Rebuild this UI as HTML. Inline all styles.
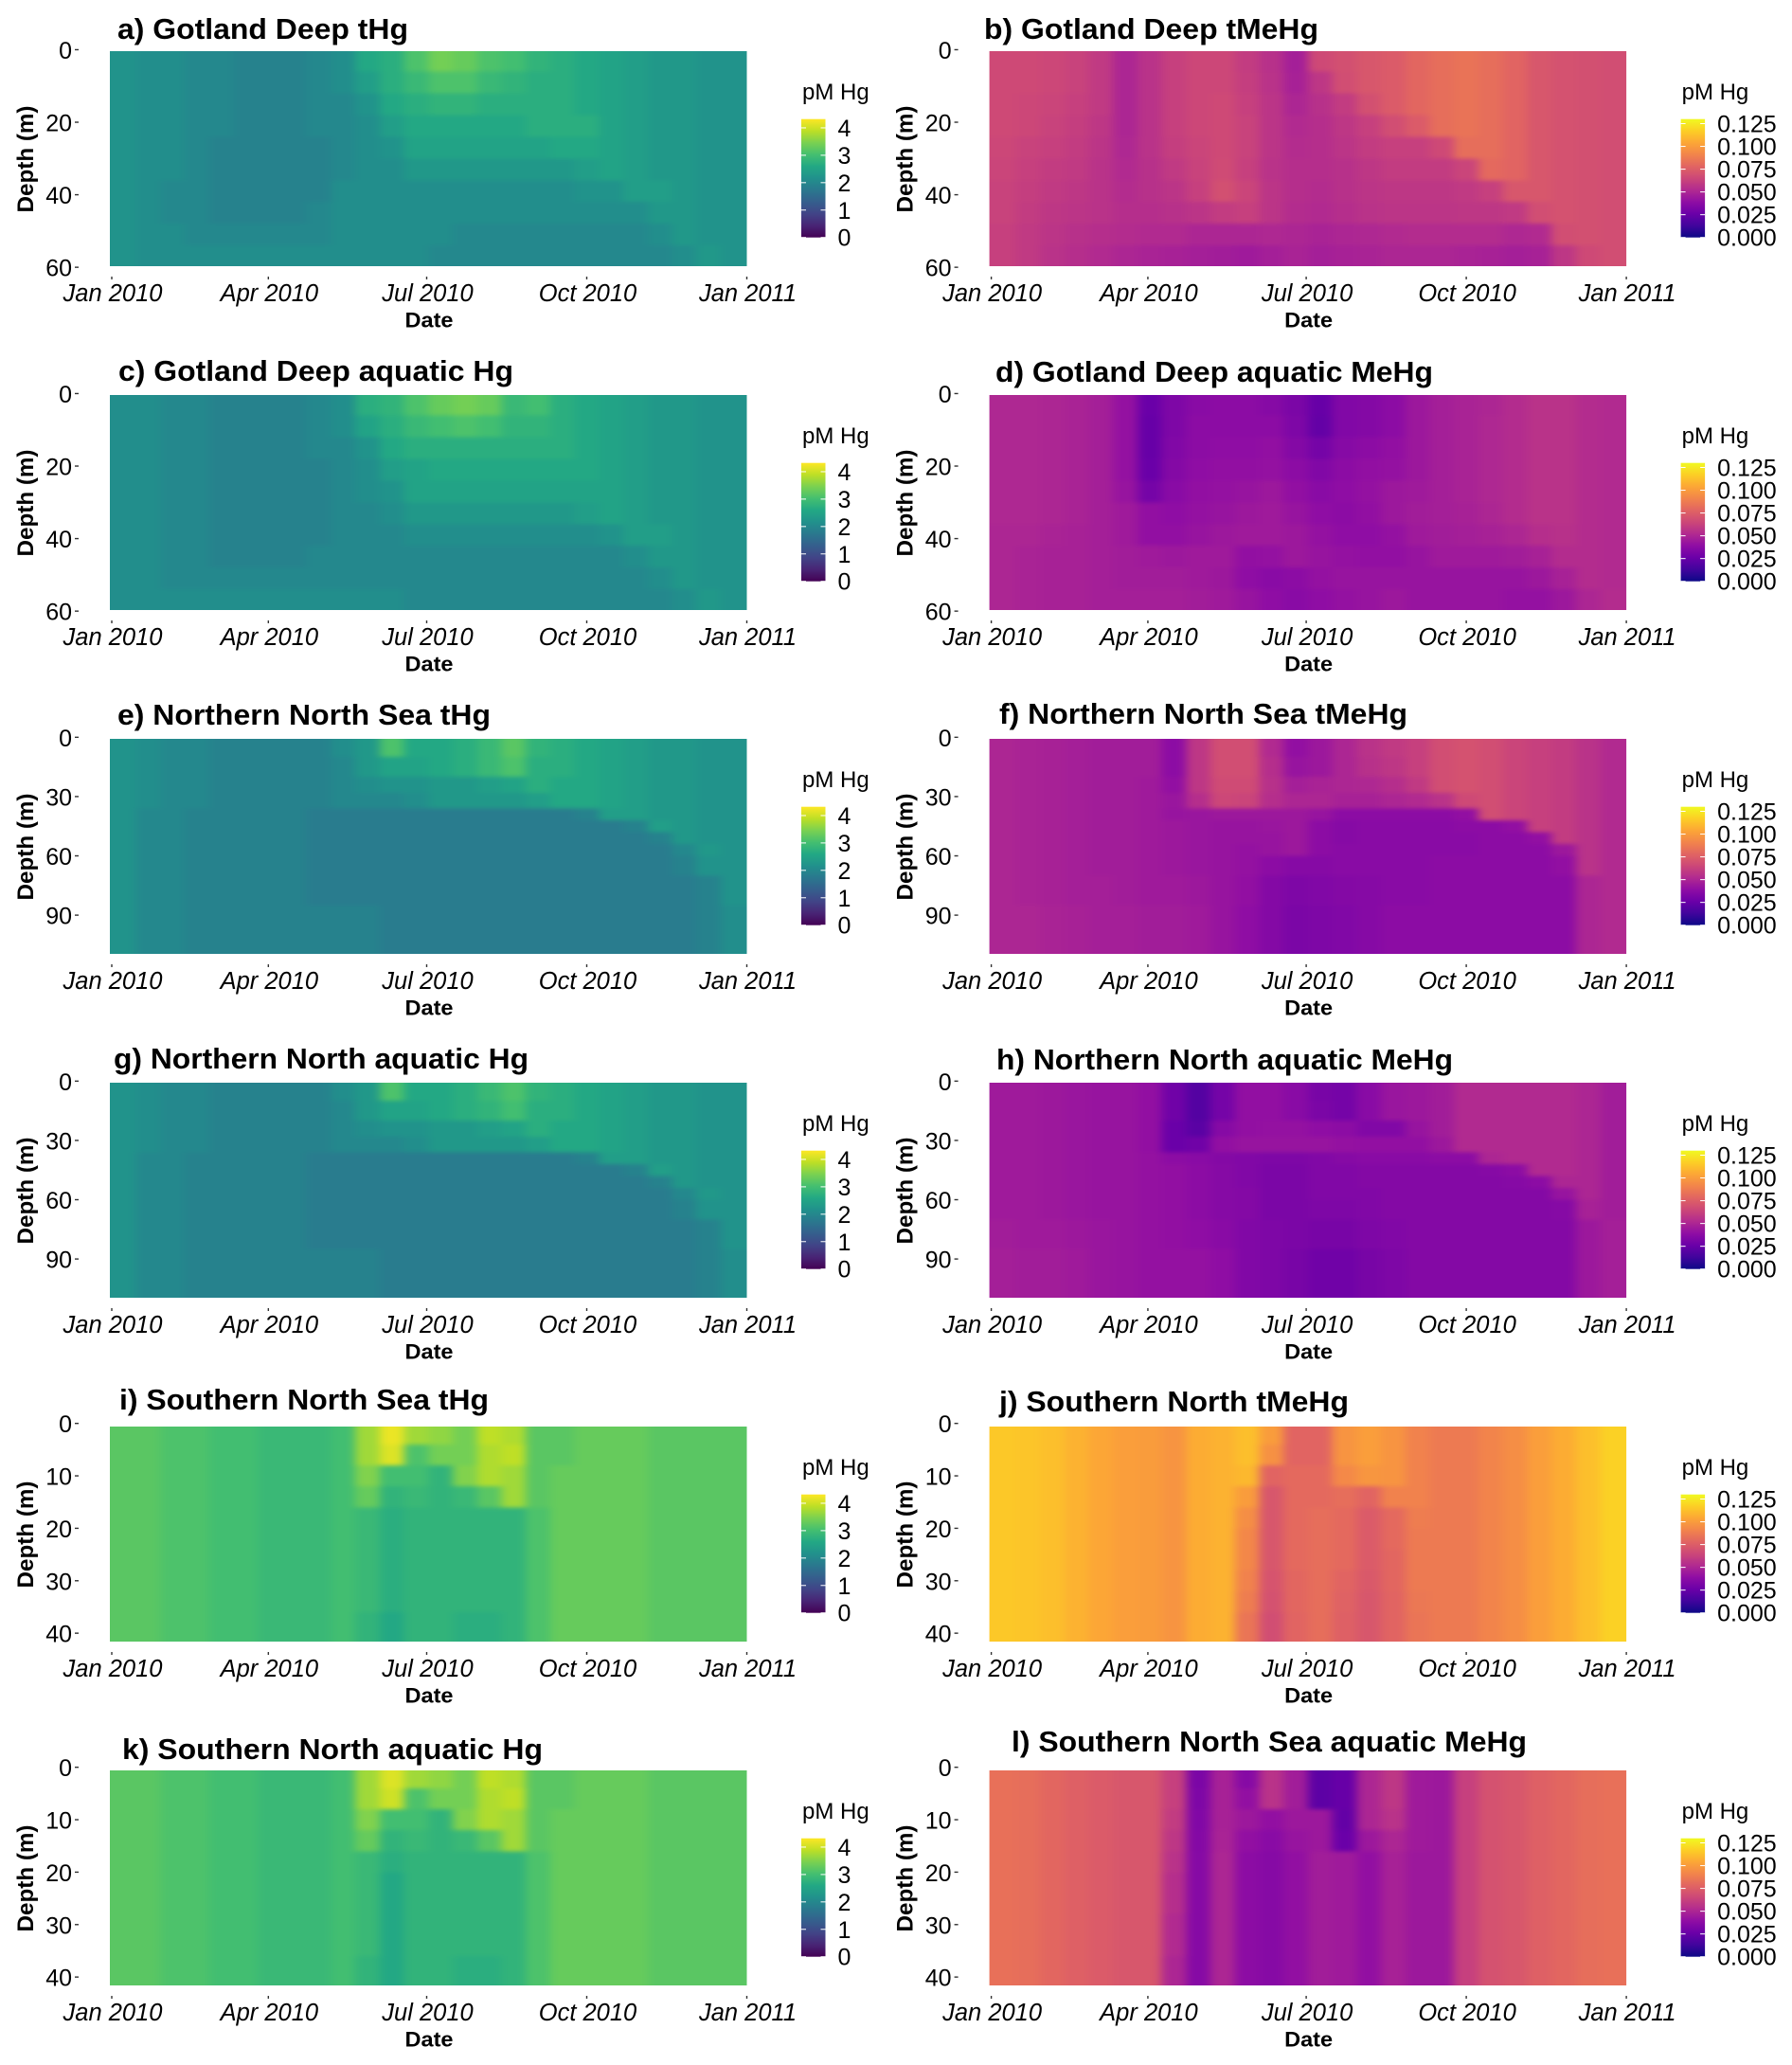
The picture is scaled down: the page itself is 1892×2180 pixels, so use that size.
<!DOCTYPE html>
<html lang="en">
<head>
<meta charset="utf-8">
<title>Hg and MeHg depth-time heatmaps</title>
<style>
html,body{margin:0;padding:0;background:#fff;}
svg{display:block;font-family:"Liberation Sans",sans-serif;}
.ttl{font-weight:bold;font-size:31px;fill:#000;}
</style>
</head>
<body>
<svg id="fig" xmlns="http://www.w3.org/2000/svg" width="1892" height="2180" viewBox="0 0 1892 2180">
<rect x="0" y="0" width="1892" height="2180" fill="#fff"/>
<defs>
<linearGradient id="gradViridis" x1="0" y1="1" x2="0" y2="0"></linearGradient>
<linearGradient id="gradPlasma" x1="0" y1="1" x2="0" y2="0"></linearGradient>
<filter id="soften" x="-5%" y="-15%" width="110%" height="130%" color-interpolation-filters="sRGB"><feGaussianBlur stdDeviation="5 2"/></filter>
</defs>
<text class="ttl" x="124" y="41" textLength="307" lengthAdjust="spacingAndGlyphs">a) Gotland Deep tHg</text>
<text class="ttl" x="1039" y="41" textLength="353" lengthAdjust="spacingAndGlyphs">b) Gotland Deep tMeHg</text>
<text class="ttl" x="125" y="402" textLength="417" lengthAdjust="spacingAndGlyphs">c) Gotland Deep aquatic Hg</text>
<text class="ttl" x="1051" y="403" textLength="462" lengthAdjust="spacingAndGlyphs">d) Gotland Deep aquatic MeHg</text>
<text class="ttl" x="124" y="765" textLength="394" lengthAdjust="spacingAndGlyphs">e) Northern North Sea tHg</text>
<text class="ttl" x="1055" y="764" textLength="431" lengthAdjust="spacingAndGlyphs">f) Northern North Sea tMeHg</text>
<text class="ttl" x="120" y="1128" textLength="438" lengthAdjust="spacingAndGlyphs">g) Northern North aquatic Hg</text>
<text class="ttl" x="1052" y="1129" textLength="482" lengthAdjust="spacingAndGlyphs">h) Northern North aquatic MeHg</text>
<text class="ttl" x="126" y="1488" textLength="390" lengthAdjust="spacingAndGlyphs">i) Southern North Sea tHg</text>
<text class="ttl" x="1055" y="1490" textLength="369" lengthAdjust="spacingAndGlyphs">j) Southern North tMeHg</text>
<text class="ttl" x="129" y="1857" textLength="444" lengthAdjust="spacingAndGlyphs">k) Southern North aquatic Hg</text>
<text class="ttl" x="1068" y="1849" textLength="544" lengthAdjust="spacingAndGlyphs">l) Southern North Sea aquatic MeHg</text>
</svg>
<script>
// ---- Time and depth categories ----
const columnStartDay=[0,14,28,42,56,70,84,98,112,126,140,154,168,182,196,210,224,238,252,266,280,294,308,322,336,350];
const dayEnd=365;
const xTickDays=[0,90,181,273,365];
const xTickLabels=['Jan 2010','Apr 2010','Jul 2010','Oct 2010','Jan 2011'];
const gotlandDepthEdges=[0,6,12,18,24,30,36,42,48,54,60];
const northDepthEdges=[0,10,20,28,36,42,48,54,60,70,85,110];
const southDepthEdges=[0,4,8,12,16,20,24,28,32,36,42];
const gotlandDepthTicks=[0,20,40,60];
const northDepthTicks=[0,30,60,90];
const southDepthTicks=[0,10,20,30,40];
const hgLegendTicks=[0,1,2,3,4];
const meHgLegendTicks=[0,25,50,75,100,125];
const meHgLegendLabels=['0.000','0.025','0.050','0.075','0.100','0.125'];

// ---- Values: Hg in 0.1 pM units, MeHg in 0.001 pM units; rows = depth bins, columns = time ----
const gotlandTHg=[
[22,21,21,20,20,19,19,19,20,21,26,27,31,34,33,31,30,28,27,26,25,24,23,23,22,22],
[22,21,21,20,20,19,19,19,20,21,24,27,29,31,31,29,28,27,27,26,25,24,23,23,22,22],
[22,21,21,20,20,19,19,19,20,20,22,26,27,28,28,27,27,27,27,26,25,24,23,23,22,22],
[22,21,21,20,20,19,19,19,20,20,21,24,26,26,26,26,26,27,27,27,25,24,23,23,22,22],
[22,21,21,20,19,19,19,19,19,20,21,22,25,25,25,25,25,25,26,26,25,24,23,23,22,22],
[22,21,21,20,19,19,19,19,19,20,21,21,23,23,23,23,23,23,23,24,25,24,23,23,22,22],
[22,21,20,20,19,19,19,19,19,21,21,21,21,21,21,21,21,21,21,22,22,24,24,23,22,22],
[22,21,20,20,19,19,19,19,20,21,21,21,21,21,21,21,21,21,21,21,21,21,23,23,22,22],
[22,21,21,20,20,20,20,20,20,21,21,21,21,21,20,20,20,20,20,20,20,20,21,23,22,22],
[22,21,21,21,21,21,21,21,21,21,21,21,21,20,20,20,20,20,20,20,20,20,20,21,23,22]];
const gotlandTMeHg=[
[66,66,65,63,59,50,56,62,65,65,60,55,47,66,69,72,74,79,82,84,82,78,72,70,69,68],
[66,66,65,63,59,50,56,62,65,65,61,56,48,58,68,72,74,79,82,84,82,78,72,70,69,68],
[66,65,64,62,59,50,56,62,65,66,62,57,50,55,60,69,74,79,82,84,82,78,72,70,69,68],
[66,65,63,61,58,50,56,62,65,66,63,57,52,54,58,62,68,74,82,84,82,78,72,70,69,68],
[65,63,62,60,57,51,56,61,64,66,63,57,53,54,57,60,62,62,66,82,82,78,72,70,69,68],
[64,62,60,59,56,52,55,59,63,67,62,56,54,54,55,58,60,60,60,64,80,78,72,70,69,68],
[63,61,59,58,56,53,55,57,62,69,64,57,54,53,55,57,58,58,58,59,62,72,72,70,69,68],
[63,60,58,57,56,54,54,55,57,60,62,57,53,52,54,56,57,57,57,58,58,59,68,70,69,68],
[62,59,57,55,54,53,52,52,50,50,50,51,50,49,50,51,52,53,53,53,53,51,52,68,69,68],
[62,59,56,54,52,50,49,48,47,46,45,47,49,47,48,49,50,50,50,49,48,47,48,58,66,68]];
const gotlandAqHg=[
[21,21,20,20,19,19,19,19,20,21,27,28,31,33,34,33,29,30,27,26,25,24,23,23,22,22],
[21,21,20,20,19,19,19,19,20,21,25,27,29,30,31,30,28,28,27,26,25,24,23,23,22,22],
[21,21,20,20,19,19,19,19,20,20,22,26,27,27,27,27,27,27,27,26,25,24,23,23,22,22],
[21,21,20,20,19,19,19,19,19,20,21,24,25,26,26,26,26,26,26,26,25,24,23,23,22,22],
[21,21,20,20,19,19,19,19,19,20,21,22,25,25,25,25,25,25,25,25,25,24,23,23,22,22],
[21,21,20,20,19,19,19,19,19,20,20,21,23,23,23,23,23,23,23,24,25,24,23,23,22,22],
[21,21,20,20,19,19,19,19,19,20,20,20,21,21,21,21,21,21,21,21,22,24,24,23,22,22],
[21,21,20,20,19,19,19,19,20,20,20,20,20,20,20,20,20,20,20,20,20,21,23,23,22,22],
[21,21,20,20,20,20,20,20,20,20,20,20,20,20,20,20,20,20,20,20,20,20,21,23,22,22],
[21,21,21,21,21,21,21,21,21,21,21,21,20,20,20,20,20,20,20,20,20,20,20,21,23,22]];
const gotlandAqMeHg=[
[51,51,50,49,47,41,26,33,37,38,38,36,32,25,34,35,38,44,47,49,50,53,56,56,53,52],
[51,51,50,49,47,41,25,33,38,38,38,38,33,24,34,35,38,44,47,49,51,53,56,56,53,52],
[51,51,50,49,47,41,25,34,38,39,39,40,35,30,36,38,40,44,47,49,51,53,56,56,53,52],
[51,51,50,49,47,41,26,35,39,40,40,41,38,34,38,40,41,44,47,49,51,53,56,56,53,52],
[51,51,50,49,47,42,30,37,40,41,42,44,40,37,39,41,44,45,47,49,51,53,56,56,53,52],
[51,51,50,49,47,45,40,39,41,42,44,45,42,39,38,40,44,46,47,48,50,53,56,56,53,52],
[50,50,49,48,47,45,40,40,42,44,45,45,44,41,39,39,41,45,46,47,48,50,54,55,53,52],
[50,49,48,48,47,46,45,44,45,45,40,41,44,42,41,40,40,42,45,45,45,46,48,53,53,52],
[50,49,48,48,47,46,46,46,45,44,39,37,38,41,42,42,42,42,42,42,42,42,44,48,53,52],
[50,49,48,48,47,47,47,47,46,45,42,39,37,39,41,42,44,42,42,42,42,41,41,44,50,53]];
const northTHg=[
[22,21,20,20,19,19,19,19,19,21,23,31,26,26,27,29,32,28,27,26,25,24,23,23,22,22],
[22,21,20,20,19,19,19,19,19,20,23,25,25,26,27,29,31,27,27,26,25,24,23,23,22,22],
[22,21,20,20,19,19,19,19,19,20,21,22,22,23,23,24,25,27,26,26,25,24,23,23,22,22],
[22,21,20,20,19,19,19,19,19,20,20,20,21,23,23,23,23,24,26,26,25,24,23,23,22,22],
[22,20,20,19,19,19,19,19,18,18,18,18,18,18,18,18,18,18,18,19,24,24,23,23,22,22],
[22,20,20,19,19,19,19,19,18,18,18,18,18,18,18,18,18,18,18,18,18,19,24,23,22,22],
[22,20,20,19,19,19,19,19,18,18,18,18,18,18,18,18,18,18,18,18,18,18,19,23,22,22],
[22,20,20,19,19,19,19,19,18,18,18,18,18,18,18,18,18,18,18,18,18,18,18,20,23,22],
[22,20,20,19,19,19,19,19,18,18,18,18,18,18,18,18,18,18,18,18,18,18,18,19,22,22],
[22,20,20,19,19,19,19,19,18,18,18,18,18,18,18,18,18,18,18,18,18,18,18,18,19,22],
[22,20,20,19,19,19,19,19,19,19,19,18,18,18,18,18,18,18,18,18,18,18,18,18,19,21]];
const northTMeHg=[
[50,49,48,47,46,46,46,38,58,68,68,52,40,44,50,56,59,62,68,70,68,64,62,60,56,52],
[50,49,48,47,46,46,46,38,58,68,68,54,42,44,50,55,58,62,68,70,68,64,62,60,56,52],
[50,49,48,47,46,46,45,40,58,67,67,55,47,49,50,51,54,59,68,70,68,64,62,60,56,52],
[50,49,48,47,46,46,45,43,54,65,64,54,50,50,48,48,50,52,56,66,68,64,62,60,56,52],
[50,49,48,47,46,46,45,42,43,44,44,44,44,42,38,38,38,38,38,40,68,64,62,60,56,52],
[50,49,48,47,46,46,45,44,43,42,42,43,44,38,36,37,37,37,37,38,38,40,62,60,56,52],
[50,49,48,47,46,46,45,44,43,42,42,42,44,38,36,37,37,37,37,37,38,38,40,60,56,52],
[50,49,48,47,46,46,45,44,43,42,41,42,44,38,37,37,37,37,37,37,38,38,38,44,56,52],
[50,49,48,47,46,46,45,44,43,42,41,38,36,36,37,37,37,37,38,38,38,38,38,40,56,52],
[50,49,48,47,47,46,45,45,44,42,40,35,33,34,35,36,37,37,38,38,38,38,38,38,50,52],
[50,50,49,48,47,47,46,46,45,42,39,35,32,33,34,36,38,38,38,38,38,38,38,38,50,52]];
const northAqHg=[
[22,21,20,20,19,19,19,19,19,21,23,31,26,26,27,29,31,28,27,26,25,24,23,23,22,22],
[22,21,20,20,19,19,19,19,19,20,23,25,25,26,27,28,30,27,27,26,25,24,23,23,22,22],
[22,21,20,20,19,19,19,19,19,20,21,22,22,23,23,24,25,27,26,26,25,24,23,23,22,22],
[22,21,20,20,19,19,19,19,19,20,20,20,21,23,23,23,23,24,26,26,25,24,23,23,22,22],
[22,20,20,19,19,19,19,19,18,18,18,18,18,18,18,18,18,18,18,19,24,24,23,23,22,22],
[22,20,20,19,19,19,19,19,18,18,18,18,18,18,18,18,18,18,18,18,18,19,24,23,22,22],
[22,20,20,19,19,19,19,19,18,18,18,18,18,18,18,18,18,18,18,18,18,18,19,23,22,22],
[22,20,20,19,19,19,19,19,18,18,18,18,18,18,18,18,18,18,18,18,18,18,18,20,23,22],
[22,20,20,19,19,19,19,19,18,18,18,18,18,18,18,18,18,18,18,18,18,18,18,19,22,22],
[22,20,20,19,19,19,19,19,18,18,18,18,18,18,18,18,18,18,18,18,18,18,18,18,19,22],
[22,20,20,19,19,19,19,19,19,19,19,18,18,18,18,18,18,18,18,18,18,18,18,18,19,21]];
const northAqMeHg=[
[45,45,44,43,42,42,40,28,19,30,40,40,37,31,30,37,43,44,46,52,52,52,52,52,50,46],
[45,45,44,43,42,42,40,28,19,30,40,40,37,32,30,37,43,44,46,52,52,52,52,52,50,46],
[45,45,44,43,42,42,40,26,21,36,40,41,41,39,38,34,34,42,46,52,52,52,52,52,50,46],
[45,45,44,43,42,42,40,26,28,40,42,42,42,42,41,40,40,40,44,52,52,52,52,52,50,46],
[45,45,44,43,42,42,41,38,37,35,34,33,33,34,36,37,37,37,38,38,50,52,52,52,50,46],
[45,45,44,43,42,42,41,40,38,36,34,32,32,34,34,35,35,35,35,35,36,38,52,52,50,46],
[45,45,44,43,42,42,41,40,38,36,34,32,32,34,34,35,35,35,35,35,35,36,38,50,50,46],
[45,45,44,43,42,42,41,40,38,36,35,32,32,34,34,34,35,35,35,35,35,35,35,42,50,46],
[45,45,44,43,42,42,41,40,38,36,35,32,32,33,33,34,35,35,35,35,35,35,35,36,48,46],
[46,45,45,44,43,42,41,40,39,37,34,33,32,31,31,33,34,35,35,35,35,35,35,35,44,47],
[47,46,46,45,43,42,41,41,41,39,34,33,31,28,28,31,33,35,35,35,35,35,35,35,44,47]];
const southTHg=[
[32,32,31,31,30,30,29,29,29,30,37,42,37,36,34,39,38,32,32,33,33,33,32,32,32,32],
[32,32,31,31,30,30,29,29,29,30,37,41,31,34,34,38,39,32,32,33,33,33,32,32,32,32],
[32,32,31,31,30,30,29,29,29,30,35,30,30,28,35,38,37,32,33,33,33,33,32,32,32,32],
[32,32,31,31,30,30,29,29,29,30,33,28,29,28,29,32,37,32,33,33,33,33,32,32,32,32],
[32,32,31,31,30,30,29,29,29,30,29,27,28,28,28,28,28,31,33,33,33,33,32,32,32,32],
[32,32,31,31,30,30,29,29,29,30,29,27,28,28,28,28,28,31,33,33,33,33,32,32,32,32],
[32,32,31,31,30,30,29,29,29,30,29,27,28,28,28,28,28,31,33,33,33,33,32,32,32,32],
[32,32,31,31,30,30,29,29,29,30,29,27,28,28,28,28,28,31,33,33,33,33,32,32,32,32],
[32,32,31,31,30,30,29,29,29,30,29,27,28,28,28,28,28,31,33,33,33,33,32,32,32,32],
[32,32,31,31,30,30,29,29,29,30,28,26,28,28,27,27,28,31,33,33,33,33,32,32,32,32]];
const southTMeHg=[
[115,114,112,108,104,101,100,97,106,108,112,100,78,78,97,101,97,90,87,87,91,95,101,106,112,118],
[115,114,112,108,104,101,100,97,106,108,112,96,78,78,97,101,97,90,87,87,91,95,101,106,112,118],
[115,114,112,108,104,101,100,97,106,108,110,78,80,80,93,98,97,90,87,87,91,95,101,106,112,118],
[115,114,112,108,104,101,100,97,106,108,100,72,80,80,82,78,90,90,87,87,91,95,101,106,112,118],
[115,114,112,108,104,101,100,97,106,108,95,72,80,82,80,74,80,88,87,87,91,95,101,106,112,118],
[115,114,112,108,104,101,100,97,106,108,92,72,80,82,80,74,80,87,87,87,91,95,101,106,112,118],
[115,114,112,108,104,101,100,97,106,108,92,72,80,82,80,74,79,87,87,87,91,95,101,106,112,118],
[115,114,112,108,104,101,100,97,106,108,90,71,79,82,78,73,79,87,87,87,91,95,101,106,112,118],
[115,114,112,108,104,101,100,97,106,108,88,70,79,82,77,72,78,86,87,87,91,95,101,106,112,118],
[115,114,112,108,104,101,100,97,106,108,85,68,78,82,76,72,78,85,87,87,91,95,101,106,112,118]];
const southAqHg=[
[32,32,31,31,30,30,29,29,29,30,37,41,37,36,34,39,38,32,32,33,33,33,32,32,32,32],
[32,32,31,31,30,30,29,29,29,30,37,40,31,34,34,38,39,32,32,33,33,33,32,32,32,32],
[32,32,31,31,30,30,29,29,29,30,35,30,30,28,35,38,37,32,33,33,33,33,32,32,32,32],
[32,32,31,31,30,30,29,29,29,30,33,28,29,28,29,32,37,32,33,33,33,33,32,32,32,32],
[32,32,31,31,30,30,29,29,29,30,29,27,28,28,28,28,28,31,33,33,33,33,32,32,32,32],
[32,32,31,31,30,30,29,29,29,30,29,26,28,28,28,28,28,31,33,33,33,33,32,32,32,32],
[32,32,31,31,30,30,29,29,29,30,29,26,28,28,28,28,28,31,33,33,33,33,32,32,32,32],
[32,32,31,31,30,30,29,29,29,30,29,26,28,28,28,28,28,31,33,33,33,33,32,32,32,32],
[32,32,31,31,30,30,29,29,29,30,29,26,28,28,28,28,28,31,33,33,33,33,32,32,32,32],
[32,32,31,31,30,30,29,29,29,30,28,26,28,28,27,27,28,31,33,33,33,33,32,32,32,32]];
const southAqMeHg=[
[83,82,79,76,74,72,72,62,32,48,36,56,46,22,25,50,58,45,44,62,70,72,76,79,82,83],
[83,82,79,76,74,72,72,62,33,48,40,56,46,22,25,50,58,45,44,62,70,72,76,79,82,83],
[83,82,79,76,74,72,72,60,34,48,44,40,44,44,24,50,56,45,44,62,70,72,76,79,82,83],
[83,82,79,76,74,72,72,58,35,49,40,37,42,44,26,44,50,45,44,62,70,72,76,79,82,83],
[83,82,79,76,74,72,72,56,36,50,38,36,40,46,45,40,48,44,44,62,70,72,76,79,82,83],
[83,82,79,76,74,72,72,54,36,50,38,36,40,46,45,40,48,44,44,62,70,72,76,79,82,83],
[83,82,79,76,74,72,72,54,36,50,38,36,40,46,45,40,48,44,44,62,70,72,76,79,82,83],
[83,82,79,76,74,72,72,52,36,50,38,36,40,46,45,40,48,44,44,62,70,72,76,79,82,83],
[83,82,79,76,74,72,72,52,36,50,38,36,40,46,45,40,48,44,44,62,70,72,76,79,82,83],
[83,82,79,76,74,72,72,50,36,50,38,36,40,46,45,40,48,44,44,62,70,72,76,79,82,83]];

// ---- Palette anchors ----
const viridisStops=['#440154','#482475','#414487','#355f8d','#2a788e','#21918c','#22a884','#44bf70','#7ad151','#bddf26','#fde725'];
const plasmaStops=['#0d0887','#41049d','#6a00a8','#8f0da4','#b12a90','#cc4778','#e16462','#f2844b','#fca636','#fcce25','#f0f921'];

const NS='http://www.w3.org/2000/svg';
const fig=document.getElementById('fig');
const defs=fig.querySelector('defs');
const plotW=672.5,plotH=227,colOffset=928.6,rowStep=363,firstTop=54,firstLeft=116,bleed=30;
const hgMax=43.2,meHgMax=130;

function make(tag,attrs,parent,txt){
  const e=document.createElementNS(NS,tag);
  for(const k in attrs)e.setAttribute(k,attrs[k]);
  if(txt!==undefined)e.textContent=txt;
  parent.appendChild(e);
  return e;
}
function hex(c){return [1,3,5].map(i=>parseInt(c.substr(i,2),16));}
function colour(stops,t){
  t=Math.max(0,Math.min(1,t));
  const p=t*(stops.length-1),i=Math.min(Math.floor(p),stops.length-2),f=p-i;
  const a=hex(stops[i]),b=hex(stops[i+1]);
  return 'rgb('+a.map((v,k)=>Math.round(v+(b[k]-v)*f)).join(',')+')';
}
function fillGradient(id,stops){
  const g=document.getElementById(id);
  stops.forEach((c,i)=>make('stop',{offset:(i/(stops.length-1)*100)+'%','stop-color':c},g));
}
fillGradient('gradViridis',viridisStops);
fillGradient('gradPlasma',plasmaStops);

const regions={
  gotland:{edges:gotlandDepthEdges,ticks:gotlandDepthTicks,d0:0.4,d1:59.7},
  north:{edges:northDepthEdges,ticks:northDepthTicks,d0:0.8,d1:109.6},
  south:{edges:southDepthEdges,ticks:southDepthTicks,d0:0.6,d1:41.6}
};
const panels=[
 {id:'a',values:gotlandTHg,region:'gotland',kind:'hg'},
 {id:'b',values:gotlandTMeHg,region:'gotland',kind:'mehg'},
 {id:'c',values:gotlandAqHg,region:'gotland',kind:'hg'},
 {id:'d',values:gotlandAqMeHg,region:'gotland',kind:'mehg'},
 {id:'e',values:northTHg,region:'north',kind:'hg'},
 {id:'f',values:northTMeHg,region:'north',kind:'mehg'},
 {id:'g',values:northAqHg,region:'north',kind:'hg'},
 {id:'h',values:northAqMeHg,region:'north',kind:'mehg'},
 {id:'i',values:southTHg,region:'south',kind:'hg'},
 {id:'j',values:southTMeHg,region:'south',kind:'mehg'},
 {id:'k',values:southAqHg,region:'south',kind:'hg'},
 {id:'l',values:southAqMeHg,region:'south',kind:'mehg'}
];

panels.forEach((panel,index)=>{
  const left=firstLeft+(index%2)*colOffset;
  const top=firstTop+Math.floor(index/2)*rowStep;
  const bottom=top+plotH,right=left+plotW;
  const reg=regions[panel.region];
  const isHg=panel.kind==='hg';
  const stops=isHg?viridisStops:plasmaStops;
  const vmax=isHg?hgMax:meHgMax;
  const xScale=d=>left+2+(plotW-2)*d/dayEnd;
  const yScale=d=>top+(d-reg.d0)/(reg.d1-reg.d0)*plotH;

  const g=make('g',{},fig);
  
  

  const clip=make('clipPath',{id:'clip-'+panel.id},defs);
  make('rect',{x:left,y:top,width:plotW,height:plotH},clip);
  const frame=make('g',{'clip-path':'url(#clip-'+panel.id+')'},g);
  
  
  const hm=make('g',{'shape-rendering':'crispEdges',filter:'url(#soften)'},frame);
  
  
  const nRows=panel.values.length;
  panel.values.forEach((row,r)=>{
    const y0=r===0?top-bleed:yScale(reg.edges[r]);
    const y1=r===nRows-1?bottom+bleed:yScale(reg.edges[r+1]);
    row.forEach((v,c)=>{
      const x0=c===0?left-bleed:xScale(columnStartDay[c]);
      const x1=c===row.length-1?right+bleed:xScale(columnStartDay[c+1]);
      const cell=make('rect',{x:x0,y:y0,width:x1-x0+0.5,height:y1-y0+0.5,fill:colour(stops,v/vmax)},hm);
      
      
    });
  });

  // y axis
  reg.ticks.forEach(d=>{
    const y=yScale(d);
    const tk=make('line',{x1:left-37,x2:left-33,y1:y,y2:y,stroke:'#333','stroke-width':1.4},g);
    
    
    const lb=make('text',{x:left-40,y:y+9.5,'text-anchor':'end','font-size':25,fill:'#000'},g,String(d));
    
    
  });
  const yt=make('text',{transform:'translate('+(left-81)+','+(top+114)+') rotate(-90)','text-anchor':'middle','font-size':24,'font-weight':'bold',fill:'#000',textLength:113,lengthAdjust:'spacingAndGlyphs'},g,'Depth (m)');
  
  

  // x axis
  xTickDays.forEach((d,i)=>{
    const x=xScale(d);
    const tk=make('line',{x1:x,x2:x,y1:bottom+11,y2:bottom+14,stroke:'#333','stroke-width':1.4},g);
    
    
    const lb=make('text',{x:x+1,y:bottom+37,'text-anchor':'middle','font-size':25.5,'font-style':'italic',fill:'#000'},g,xTickLabels[i]);
    
    
  });
  const xt=make('text',{x:left+337,y:bottom+64.5,'text-anchor':'middle','font-size':22.5,'font-weight':'bold',fill:'#000',textLength:51,lengthAdjust:'spacingAndGlyphs'},g,'Date');
  
  

  // legend
  const lx=left+730,ly=top+71.7,lw=25.5,lh=125;
  const lt=make('text',{x:lx+1,y:top+51,'font-size':24,fill:'#000'},g,'pM Hg');
  
  
  const bar=make('rect',{x:lx,y:ly,width:lw,height:lh,fill:isHg?'url(#gradViridis)':'url(#gradPlasma)'},g);
  
  
  const legTicks=isHg?hgLegendTicks.map(v=>v*10):meHgLegendTicks;
  legTicks.forEach((v,i)=>{
    const y=ly+lh*(1-v/vmax);
    const t1=make('line',{x1:lx,x2:lx+5,y1:y,y2:y,stroke:'#fff','stroke-width':1},g);
    
    
    const t2=make('line',{x1:lx+lw-5,x2:lx+lw,y1:y,y2:y,stroke:'#fff','stroke-width':1},g);
    
    
    const txt=isHg?String(hgLegendTicks[i]):meHgLegendLabels[i];
    const lab=make('text',{x:lx+38.5,y:y+9,'font-size':25,fill:'#000'},g,txt);
    
    
  });
});
</script>
</body>
</html>
